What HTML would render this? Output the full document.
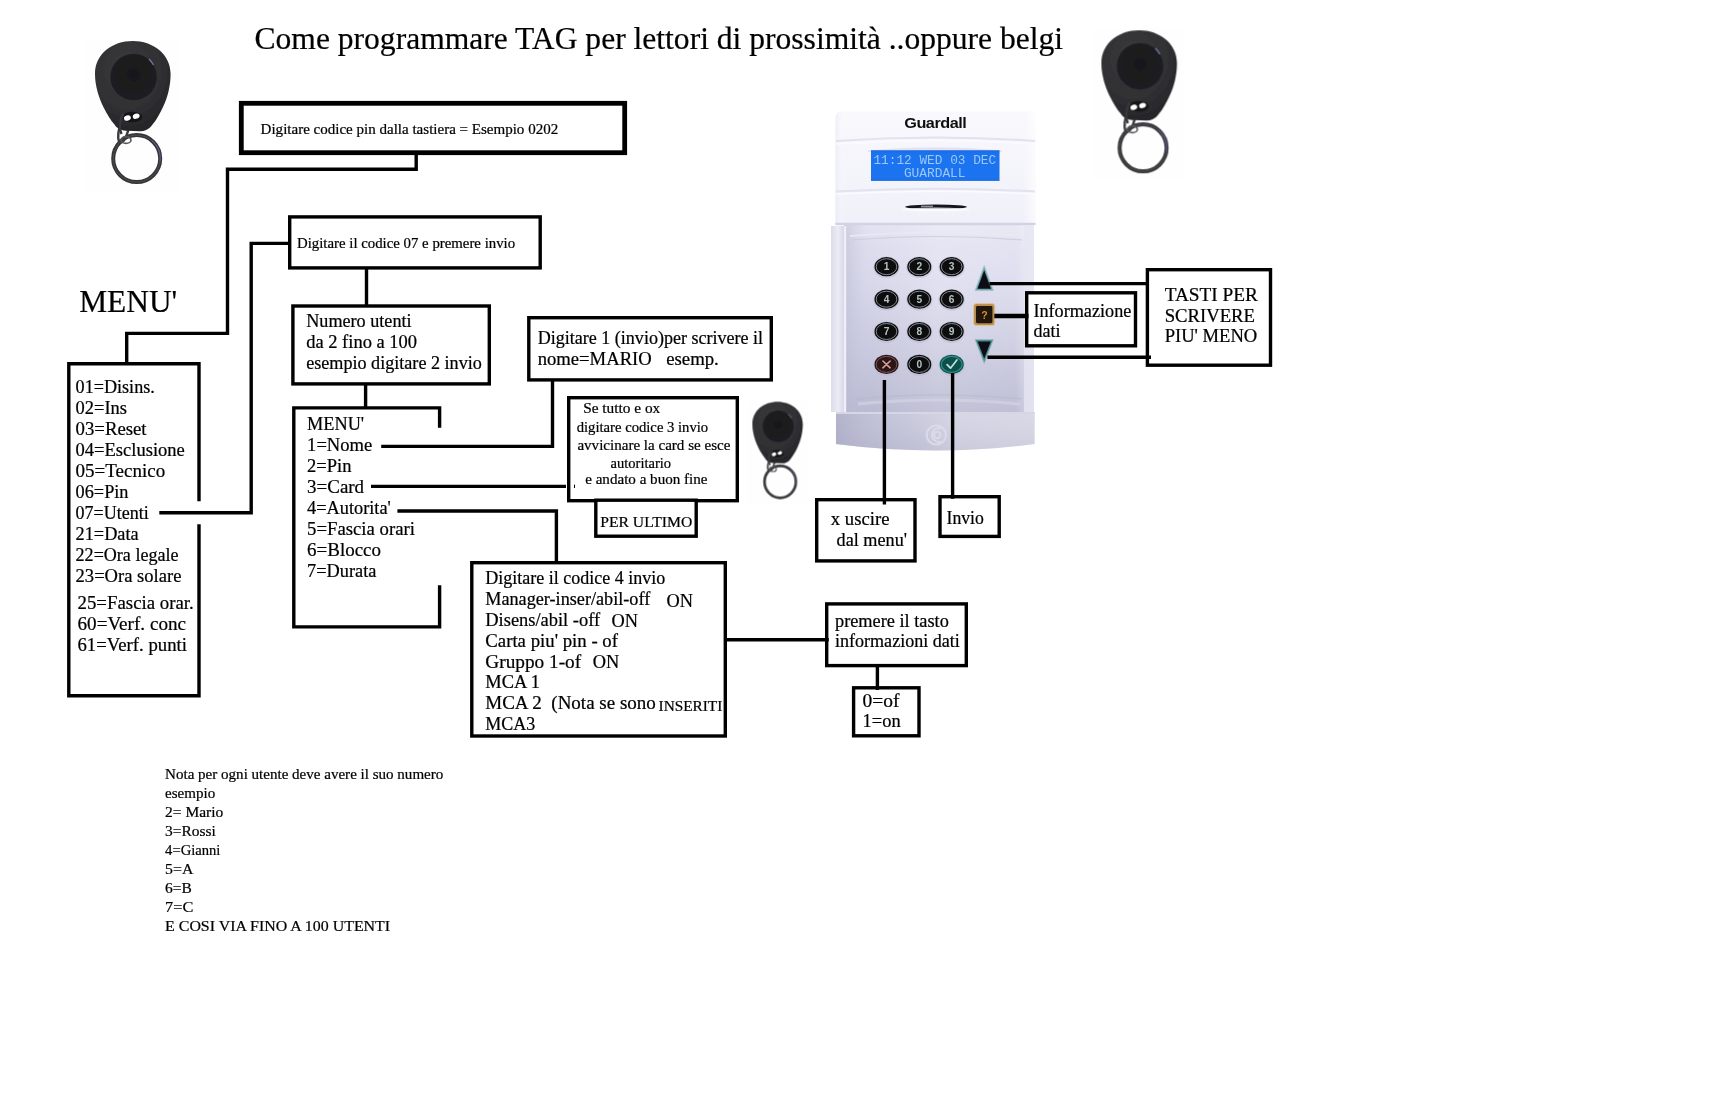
<!DOCTYPE html>
<html>
<head>
<meta charset="utf-8">
<title>Come programmare TAG</title>
<style>
html,body{margin:0;padding:0;background:#fff;width:1736px;height:1118px;overflow:hidden}
svg{display:block;position:absolute;left:0;top:0}
text{font-family:"Liberation Serif",serif;fill:#000;white-space:pre;stroke:#000;stroke-width:.22px}
.m{font-size:18px}
.s{font-size:15px}
.t{font-size:31.5px}
.ln{stroke:#000;stroke-width:3.4;fill:none;stroke-linecap:butt;stroke-linejoin:miter}
.bx{stroke:#000;stroke-width:3.4;fill:#fff}
</style>
</head>
<body>
<svg width="1736" height="1118" viewBox="0 0 1736 1118">
<defs>
<!--DEFS-->
<linearGradient id="gTop" x1="0" y1="0" x2="0" y2="1">
  <stop offset="0" stop-color="#f9f9fd"/><stop offset=".25" stop-color="#f6f6fc"/><stop offset=".55" stop-color="#f4f4fb"/><stop offset="1" stop-color="#f0f0f9"/>
</linearGradient>
<linearGradient id="gTopH" x1="0" y1="0" x2="1" y2="0">
  <stop offset="0" stop-color="#e8e8f4" stop-opacity=".6"/><stop offset=".05" stop-color="#fff" stop-opacity="0"/><stop offset=".94" stop-color="#fff" stop-opacity="0"/><stop offset="1" stop-color="#fff" stop-opacity=".7"/>
</linearGradient>
<linearGradient id="gBody" x1="0" y1="0" x2="0" y2="1">
  <stop offset="0" stop-color="#e8e8f4"/><stop offset=".12" stop-color="#e0e0f0"/><stop offset=".35" stop-color="#d9d9ec"/><stop offset=".68" stop-color="#c9c9df"/><stop offset="1" stop-color="#b7b7d0"/>
</linearGradient>
<linearGradient id="gBodyH" x1="0" y1="0" x2="1" y2="0">
  <stop offset="0" stop-color="#b8b8d0" stop-opacity=".55"/><stop offset=".12" stop-color="#c8c8de" stop-opacity=".15"/><stop offset=".5" stop-color="#fff" stop-opacity=".18"/><stop offset=".9" stop-color="#fff" stop-opacity=".1"/><stop offset="1" stop-color="#fff" stop-opacity=".45"/>
</linearGradient>
<linearGradient id="gFlap" x1="0" y1="0" x2="1" y2="0">
  <stop offset="0" stop-color="#dcdcea"/><stop offset=".5" stop-color="#ececf6"/><stop offset="1" stop-color="#d4d4e6"/>
</linearGradient>
<linearGradient id="gLip" x1="0" y1="0" x2="0" y2="1">
  <stop offset="0" stop-color="#c9c9dd"/><stop offset=".5" stop-color="#c3c3d8"/><stop offset="1" stop-color="#b9b9d0"/>
</linearGradient>
<linearGradient id="gLipH" x1="0" y1="0" x2="1" y2="0">
  <stop offset="0" stop-color="#a9a9c4" stop-opacity=".7"/><stop offset=".25" stop-color="#b8b8d0" stop-opacity=".2"/><stop offset=".6" stop-color="#fff" stop-opacity=".25"/><stop offset="1" stop-color="#fff" stop-opacity=".3"/>
</linearGradient>
<linearGradient id="gLcd" x1="0" y1="0" x2="0" y2="1">
  <stop offset="0" stop-color="#1450c8" stop-opacity=".35"/><stop offset=".15" stop-color="#2a7bf0" stop-opacity=".05"/><stop offset=".85" stop-color="#2a7bf0" stop-opacity="0"/><stop offset="1" stop-color="#1450c8" stop-opacity=".2"/>
</linearGradient>
<radialGradient id="gFobBody" cx=".42" cy=".3" r=".8">
  <stop offset="0" stop-color="#3b3b3e"/><stop offset=".6" stop-color="#2f2f32"/><stop offset="1" stop-color="#222225"/>
</radialGradient>
<radialGradient id="gFobIn" cx=".5" cy=".45" r=".6">
  <stop offset="0" stop-color="#18181a"/><stop offset="1" stop-color="#1f1f22"/>
</radialGradient>
<filter id="soft" x="-5%" y="-5%" width="110%" height="110%"><feGaussianBlur stdDeviation=".55"/></filter>
<filter id="soft2" x="-5%" y="-5%" width="110%" height="110%"><feGaussianBlur stdDeviation=".45"/></filter>
<g id="fob">
  <!-- faint photo background -->
  <rect x="-9" y="-2" width="92" height="152" fill="#fefefe"/>
  <!-- key ring -->
  <circle cx="41.7" cy="117.6" r="23.5" fill="none" stroke="#343437" stroke-width="4"/>
  <circle cx="41.7" cy="117.6" r="23.5" fill="none" stroke="#77777e" stroke-width=".7" opacity=".55"/>
  <path d="M57,99.5 A23.6,23.6 0 0 1 65,121" fill="none" stroke="#6a6ab8" stroke-width="1.2" opacity=".55"/>
  <!-- link -->
  <ellipse cx="28.8" cy="88" rx="4.6" ry="14" transform="rotate(14 28.8 88)" fill="none" stroke="#3a3a3d" stroke-width="2.4"/>
  <ellipse cx="31" cy="99" rx="5" ry="3.4" fill="none" stroke="#55555a" stroke-width="1.6"/>
  <!-- body -->
  <path d="M37.8,0 C58,0 75.6,13 75.6,33 C75.6,45 72.5,57 68,66 C64.5,73.5 61,79.5 57.5,83.5 C54,88.5 50,90.3 44,90.3 L33,89.8 C27,89.5 22.5,88.5 19.5,83.5 C16,79.5 12,73.5 8.4,66 C4,57 0,45 0,33 C0,13 17,0 37.8,0 Z" fill="url(#gFobBody)"/>
  <circle cx="38.6" cy="36" r="23.2" fill="url(#gFobIn)"/>
  <path d="M54,18 A23.2,23.2 0 0 1 58.5,24" stroke="#7f8fc8" stroke-width="1.3" fill="none" opacity=".8"/>
  <!-- hole -->
  <ellipse cx="37.3" cy="76" rx="10" ry="5.3" fill="#141416"/>
  <ellipse cx="32.4" cy="77" rx="3.5" ry="2.6" fill="#fff" transform="rotate(-20 32.4 77)"/>
  <ellipse cx="41.2" cy="75.2" rx="3.5" ry="2.5" fill="#fff" transform="rotate(-20 41.2 75.2)"/>
  <path d="M28.5,72.5 C25,78 23.5,86 26.5,93" fill="none" stroke="#37373a" stroke-width="2.4"/>
</g>
<!--/DEFS-->
</defs>

<!--DEVICE-->
<g id="device" filter="url(#soft)">
  <!-- lower body -->
  <rect x="831" y="226" width="14" height="186" fill="url(#gFlap)"/>
  <rect x="844" y="222" width="190" height="191" fill="url(#gBody)"/>
  <rect x="844" y="222" width="190" height="191" fill="url(#gBodyH)"/>
  <!-- inner ridge of panel -->
  <path d="M850,236 Q936,229 1024,236" stroke="#e9e9f5" stroke-width="2.2" fill="none" opacity=".9"/>
  <path d="M852,240 Q936,233 1022,240" stroke="#c6c6dc" stroke-width="1.2" fill="none" opacity=".7"/>
  <!-- bottom ridge of panel -->
  <path d="M858,404 Q936,396 1020,404" stroke="#d3d3e6" stroke-width="3" fill="none" opacity=".7"/>
  <path d="M856,399 Q936,391 1022,399" stroke="#b4b4cc" stroke-width="1.4" fill="none" opacity=".45"/>
  <rect x="1024" y="226" width="10" height="186" fill="#e6e6f3" opacity=".75"/>
  <rect x="844" y="226" width="2.2" height="186" fill="#efeff8"/>
  <!-- base lip -->
  <path d="M836,412 H1034.6 V444 Q936,457 836,444 Z" fill="url(#gLip)"/>
  <path d="M836,412 H1034.6 V444 Q936,457 836,444 Z" fill="url(#gLipH)"/>
  <path d="M836,413 H1034.6" stroke="#d6d6e6" stroke-width="2"/>
  <!-- logo emboss -->
  <g fill="none" stroke="#dadaea" stroke-width="2" opacity="1">
    <circle cx="936.3" cy="435" r="9.6"/>
    <path d="M941.5,428.5 A7,7 0 1 0 941.5,441.5"/>
    <circle cx="937.2" cy="435" r="3.2"/>
  </g>
  <!-- top housing -->
  <path d="M835.4,225 V118 Q835.4,111.4 842,111.4 H1029 Q1035.4,111.4 1035.4,118 V225 Z" fill="url(#gTop)"/>
  <path d="M835.4,225 V118 Q835.4,111.4 842,111.4 H1029 Q1035.4,111.4 1035.4,118 V225 Z" fill="url(#gTopH)"/>
  <!-- ridges -->
  <path d="M836,141 Q936,134 1035,141" stroke="#e2e2ef" stroke-width="2.2" fill="none"/>
  <path d="M836,144 Q936,137 1035,144" stroke="#fbfbff" stroke-width="1.6" fill="none"/>
  <path d="M836,191.5 Q936,186 1035,191.5" stroke="#e3e3f0" stroke-width="2.2" fill="none"/>
  <path d="M836,194 Q936,188.5 1035,194" stroke="#fbfbff" stroke-width="1.6" fill="none"/>
  <path d="M835.4,224 H1035.4" stroke="#d2d2e4" stroke-width="2.4"/>
  <!-- LCD recess shadow + LCD -->
  <path d="M868,150.5 Q936,144 1002,150.5 V152 H868 Z" fill="#d8dbee" opacity=".7"/>
  <rect x="871" y="150.3" width="128.5" height="30.6" fill="#1a73ef"/>
  <rect x="871" y="150.3" width="128.5" height="30.6" fill="url(#gLcd)"/>
  <text x="873.4" y="164.2" style="stroke:none;font-family:'Liberation Mono',monospace;font-size:12.8px;fill:#9cc7f9" textLength="122.8" lengthAdjust="spacingAndGlyphs">11:12 WED 03 DEC</text>
  <text x="903.9" y="177" style="stroke:none;font-family:'Liberation Mono',monospace;font-size:12.8px;fill:#9cc7f9" textLength="61.6" lengthAdjust="spacingAndGlyphs">GUARDALL</text>
  <!-- brand -->
  <text x="904.3" y="127.8" style="stroke:none;font-family:'Liberation Sans',sans-serif;font-weight:bold;font-size:15.2px;fill:#111;letter-spacing:-.45px" textLength="62" lengthAdjust="spacingAndGlyphs">Guardall</text>
  <!-- slot -->
  <ellipse cx="936" cy="206.8" rx="31" ry="2.3" fill="#15151b"/>
  <ellipse cx="936" cy="209.6" rx="34" ry="2" fill="#fdfdff" opacity=".8"/>
  <rect x="921" y="205.6" width="12" height="1.6" fill="#8d8d99"/>
  <!-- keys -->
  <g id="keys">
    <ellipse cx="886.5" cy="267.3" rx="13.2" ry="10.8" fill="#b9b9cf" opacity=".55"/>
    <ellipse cx="886.5" cy="266.7" rx="12" ry="9.6" fill="#0a0b0e"/>
    <ellipse cx="886.5" cy="266.7" rx="10.3" ry="8" fill="none" stroke="#8f979b" stroke-width=".9"/>
    <text x="886.5" y="270.4" text-anchor="middle" style="stroke:none;font-family:'Liberation Sans',sans-serif;font-weight:bold;font-size:10.2px;fill:#b7c3c2">1</text>
    <ellipse cx="919.3" cy="267.3" rx="13.2" ry="10.8" fill="#b9b9cf" opacity=".55"/>
    <ellipse cx="919.3" cy="266.7" rx="12" ry="9.6" fill="#0a0b0e"/>
    <ellipse cx="919.3" cy="266.7" rx="10.3" ry="8" fill="none" stroke="#8f979b" stroke-width=".9"/>
    <text x="919.3" y="270.4" text-anchor="middle" style="stroke:none;font-family:'Liberation Sans',sans-serif;font-weight:bold;font-size:10.2px;fill:#b7c3c2">2</text>
    <ellipse cx="951.7" cy="267.3" rx="13.2" ry="10.8" fill="#b9b9cf" opacity=".55"/>
    <ellipse cx="951.7" cy="266.7" rx="12" ry="9.6" fill="#0a0b0e"/>
    <ellipse cx="951.7" cy="266.7" rx="10.3" ry="8" fill="none" stroke="#8f979b" stroke-width=".9"/>
    <text x="951.7" y="270.4" text-anchor="middle" style="stroke:none;font-family:'Liberation Sans',sans-serif;font-weight:bold;font-size:10.2px;fill:#b7c3c2">3</text>
    <ellipse cx="886.5" cy="299.8" rx="13.2" ry="10.8" fill="#b9b9cf" opacity=".55"/>
    <ellipse cx="886.5" cy="299.2" rx="12" ry="9.6" fill="#0a0b0e"/>
    <ellipse cx="886.5" cy="299.2" rx="10.3" ry="8" fill="none" stroke="#8f979b" stroke-width=".9"/>
    <text x="886.5" y="302.9" text-anchor="middle" style="stroke:none;font-family:'Liberation Sans',sans-serif;font-weight:bold;font-size:10.2px;fill:#b7c3c2">4</text>
    <ellipse cx="919.3" cy="299.8" rx="13.2" ry="10.8" fill="#b9b9cf" opacity=".55"/>
    <ellipse cx="919.3" cy="299.2" rx="12" ry="9.6" fill="#0a0b0e"/>
    <ellipse cx="919.3" cy="299.2" rx="10.3" ry="8" fill="none" stroke="#8f979b" stroke-width=".9"/>
    <text x="919.3" y="302.9" text-anchor="middle" style="stroke:none;font-family:'Liberation Sans',sans-serif;font-weight:bold;font-size:10.2px;fill:#b7c3c2">5</text>
    <ellipse cx="951.7" cy="299.8" rx="13.2" ry="10.8" fill="#b9b9cf" opacity=".55"/>
    <ellipse cx="951.7" cy="299.2" rx="12" ry="9.6" fill="#0a0b0e"/>
    <ellipse cx="951.7" cy="299.2" rx="10.3" ry="8" fill="none" stroke="#8f979b" stroke-width=".9"/>
    <text x="951.7" y="302.9" text-anchor="middle" style="stroke:none;font-family:'Liberation Sans',sans-serif;font-weight:bold;font-size:10.2px;fill:#b7c3c2">6</text>
    <ellipse cx="886.5" cy="332.1" rx="13.2" ry="10.8" fill="#b9b9cf" opacity=".55"/>
    <ellipse cx="886.5" cy="331.5" rx="12" ry="9.6" fill="#0a0b0e"/>
    <ellipse cx="886.5" cy="331.5" rx="10.3" ry="8" fill="none" stroke="#8f979b" stroke-width=".9"/>
    <text x="886.5" y="335.2" text-anchor="middle" style="stroke:none;font-family:'Liberation Sans',sans-serif;font-weight:bold;font-size:10.2px;fill:#b7c3c2">7</text>
    <ellipse cx="919.3" cy="332.1" rx="13.2" ry="10.8" fill="#b9b9cf" opacity=".55"/>
    <ellipse cx="919.3" cy="331.5" rx="12" ry="9.6" fill="#0a0b0e"/>
    <ellipse cx="919.3" cy="331.5" rx="10.3" ry="8" fill="none" stroke="#8f979b" stroke-width=".9"/>
    <text x="919.3" y="335.2" text-anchor="middle" style="stroke:none;font-family:'Liberation Sans',sans-serif;font-weight:bold;font-size:10.2px;fill:#b7c3c2">8</text>
    <ellipse cx="951.7" cy="332.1" rx="13.2" ry="10.8" fill="#b9b9cf" opacity=".55"/>
    <ellipse cx="951.7" cy="331.5" rx="12" ry="9.6" fill="#0a0b0e"/>
    <ellipse cx="951.7" cy="331.5" rx="10.3" ry="8" fill="none" stroke="#8f979b" stroke-width=".9"/>
    <text x="951.7" y="335.2" text-anchor="middle" style="stroke:none;font-family:'Liberation Sans',sans-serif;font-weight:bold;font-size:10.2px;fill:#b7c3c2">9</text>
    <ellipse cx="886.5" cy="365.0" rx="13.2" ry="10.8" fill="#b9b9cf" opacity=".55"/>
    <ellipse cx="886.5" cy="364.4" rx="12" ry="9.6" fill="#2a1517"/>
    <ellipse cx="886.5" cy="364.4" rx="10.3" ry="8" fill="none" stroke="#7d5452" stroke-width="1"/>
    <path d="M882.9,361.0 L890.1,367.79999999999995 M890.1,361.0 L882.9,367.79999999999995" stroke="#d99d97" stroke-width="1.6" stroke-linecap="round" fill="none"/>
    <ellipse cx="919.3" cy="365.0" rx="13.2" ry="10.8" fill="#b9b9cf" opacity=".55"/>
    <ellipse cx="919.3" cy="364.4" rx="12" ry="9.6" fill="#0a0b0e"/>
    <ellipse cx="919.3" cy="364.4" rx="10.3" ry="8" fill="none" stroke="#8f979b" stroke-width=".9"/>
    <text x="919.3" y="368.09999999999997" text-anchor="middle" style="stroke:none;font-family:'Liberation Sans',sans-serif;font-weight:bold;font-size:10.2px;fill:#b7c3c2">0</text>
    <ellipse cx="951.7" cy="365.0" rx="13.2" ry="10.8" fill="#b9b9cf" opacity=".55"/>
    <ellipse cx="951.7" cy="364.4" rx="12" ry="9.6" fill="#0b4f4c"/>
    <ellipse cx="951.7" cy="364.4" rx="10.3" ry="8" fill="none" stroke="#2f8f88" stroke-width="1.1"/>
    <path d="M947.1,364.59999999999997 L950.5,368.2 L956.9000000000001,360.0" stroke="#bfe4e0" stroke-width="1.7" stroke-linecap="round" stroke-linejoin="round" fill="none"/>
  </g>
  <!-- up arrow -->
  <path d="M984.2,265.6 L993.4,290.6 H975 Z" fill="#6fa3ab" stroke="#a9c6cd" stroke-width=".9" stroke-linejoin="round"/>
  <path d="M984.2,270.2 L991,288.8 H977.4 Z" fill="#0b1114"/>
  <!-- down arrow -->
  <path d="M975,339.6 H993.4 L984.2,363.4 Z" fill="#4f8890" stroke="#9dbdc4" stroke-width=".9" stroke-linejoin="round"/>
  <path d="M977.6,341.6 H990.8 L984.2,358.6 Z" fill="#0b1114"/>
  <!-- ? key -->
  <rect x="973.6" y="303.6" width="21.2" height="22" rx="2.8" fill="#b98d4e" stroke="#dcc79e" stroke-width="1"/>
  <rect x="976" y="306" width="16.4" height="17.2" rx="1.4" fill="#20150f"/>
  <text x="981.2" y="318.8" style="stroke:none;font-family:'Liberation Sans',sans-serif;font-weight:bold;font-size:10.5px;fill:#cf9534">?</text>
</g>
<!--/DEVICE-->


<!--FOBS-->
<g filter="url(#soft2)">
  <use href="#fob" transform="translate(95,41)"/>
  <use href="#fob" transform="translate(1101.4,30.3)"/>
  <use href="#fob" transform="translate(752.4,401.9) scale(.667,.68)"/>
</g>
<!--/FOBS-->

<!-- ================= boxes ================= -->
<!-- box1 (thick) -->
<rect x="241.3" y="103.3" width="383.4" height="49.4" fill="#fff" stroke="#000" stroke-width="4.8"/>
<g class="bx">
  <rect x="289.7" y="216.9" width="250.5" height="51"/>
  <rect x="292.9" y="306" width="196.4" height="77.9"/>
  <rect x="528.8" y="317.7" width="242.5" height="62.2"/>
  <rect x="568.7" y="397.7" width="168.6" height="103"/>
  <rect x="595.8" y="500.2" width="100.4" height="36"/>
  <rect x="471.8" y="562.7" width="253.5" height="173.3"/>
  <rect x="816.7" y="499.7" width="98.3" height="61.2"/>
  <rect x="940" y="496.7" width="59.2" height="39.7"/>
  <rect x="826.7" y="603.9" width="139.6" height="61.7"/>
  <rect x="853.6" y="687.8" width="65.4" height="48"/>
  <rect x="1026.7" y="292.8" width="108.8" height="53"/>
  <rect x="1147.4" y="269.7" width="123.1" height="95.5"/>
</g>
<!-- main menu box: right border has a gap -->
<g class="ln">
  <path d="M199,501.2 V363.7 H68.8 V695.7 H199 V524.2"/>
  <!-- sub menu box (open on right side) -->
  <path d="M439.6,427.8 V407.9 H293.8 V626.9 H439.6 V585.2"/>
</g>

<!-- ================= connector lines ================= -->
<g class="ln">
  <!-- box1 -> main menu -->
  <path d="M416.2,154 V169.3 H227.5 V335"/>
  <path d="M229,333.4 H126.7 V364"/>
  <!-- box2 -> 07=Utenti -->
  <path d="M289,243.4 H251.2 V512.8 H159.3"/>
  <!-- box2 -> numero utenti -->
  <path d="M366.5,268 V306"/>
  <!-- numero utenti -> sub menu -->
  <path d="M365.6,384 V408"/>
  <!-- 1=Nome -> Digitare 1 -->
  <path d="M381.2,446.4 H552.5 V380"/>
  <!-- 3=Card -> Se tutto -->
  <path d="M371,486.4 H566"/>
  <!-- 4=Autorita' -> codice 4 -->
  <path d="M397.4,511 H556.4 V562"/>
  <!-- codice 4 -> premere -->
  <path d="M726,639.7 H828.8"/>
  <!-- premere -> 0=of -->
  <path d="M877.4,666 V690"/>
  <!-- X key -> x uscire -->
  <path d="M884.4,380 V504.5"/>
  <!-- check key -> Invio -->
  <path d="M952.6,373 V498.8"/>
  <!-- arrows -> TASTI -->
  <path d="M989.4,283.6 H1147"/>
  <path d="M987.4,357.2 H1151"/>
</g>
<rect x="574" y="484.6" width="1" height="3.4" fill="#000"/>
<!-- ? -> Informazione (thicker) -->
<path d="M994.3,316 H1028.5" stroke="#000" stroke-width="4.6" fill="none"/>

<!--TEXT-->
<g>
<text x="254.5" y="48.7" class="t" textLength="808.6" lengthAdjust="spacingAndGlyphs">Come programmare TAG per lettori di prossimità ..oppure belgi</text>
<text x="260.6" y="134.3" class="s" textLength="297.6" lengthAdjust="spacingAndGlyphs">Digitare codice pin dalla tastiera = Esempio 0202</text>
<text x="297" y="247.9" class="s" textLength="218.1" lengthAdjust="spacingAndGlyphs">Digitare il codice 07 e premere invio</text>
<text x="79.2" y="311.6" class="t" textLength="98.1" lengthAdjust="spacingAndGlyphs">MENU'</text>
<text x="75.6" y="392.9" class="m" textLength="79.2" lengthAdjust="spacingAndGlyphs">01=Disins.</text>
<text x="75.6" y="413.9" class="m" textLength="51.4" lengthAdjust="spacingAndGlyphs">02=Ins</text>
<text x="75.6" y="434.9" class="m" textLength="71.0" lengthAdjust="spacingAndGlyphs">03=Reset</text>
<text x="75.6" y="455.9" class="m" textLength="109.2" lengthAdjust="spacingAndGlyphs">04=Esclusione</text>
<text x="75.6" y="476.9" class="m" textLength="89.6" lengthAdjust="spacingAndGlyphs">05=Tecnico</text>
<text x="75.6" y="497.9" class="m" textLength="52.9" lengthAdjust="spacingAndGlyphs">06=Pin</text>
<text x="75.6" y="518.9" class="m" textLength="73.2" lengthAdjust="spacingAndGlyphs">07=Utenti</text>
<text x="75.6" y="539.9" class="m" textLength="63.0" lengthAdjust="spacingAndGlyphs">21=Data</text>
<text x="75.6" y="560.9" class="m" textLength="102.9" lengthAdjust="spacingAndGlyphs">22=Ora legale</text>
<text x="75.6" y="581.9" class="m" textLength="105.8" lengthAdjust="spacingAndGlyphs">23=Ora solare</text>
<text x="77.5" y="609.4" class="m" textLength="116.3" lengthAdjust="spacingAndGlyphs" style="font-size:18.8px">25=Fascia orar.</text>
<text x="77.5" y="630.2" class="m" textLength="108.5" lengthAdjust="spacingAndGlyphs" style="font-size:18.8px">60=Verf. conc</text>
<text x="77.5" y="651" class="m" textLength="109.5" lengthAdjust="spacingAndGlyphs" style="font-size:18.8px">61=Verf. punti</text>
<text x="306.2" y="326.9" class="m" textLength="105.4" lengthAdjust="spacingAndGlyphs">Numero utenti</text>
<text x="306.2" y="347.9" class="m" textLength="110.9" lengthAdjust="spacingAndGlyphs">da 2 fino a 100</text>
<text x="306.2" y="368.7" class="m" textLength="175.6" lengthAdjust="spacingAndGlyphs">esempio digitare 2 invio</text>
<text x="307.1" y="429.9" class="m" textLength="57.0" lengthAdjust="spacingAndGlyphs">MENU'</text>
<text x="307.1" y="451.2" class="m" textLength="65.2" lengthAdjust="spacingAndGlyphs">1=Nome</text>
<text x="307.1" y="472.1" class="m" textLength="44.4" lengthAdjust="spacingAndGlyphs">2=Pin</text>
<text x="307.1" y="493" class="m" textLength="57.0" lengthAdjust="spacingAndGlyphs">3=Card</text>
<text x="307.1" y="514.1" class="m" textLength="83.8" lengthAdjust="spacingAndGlyphs">4=Autorita'</text>
<text x="307.1" y="535" class="m" textLength="107.8" lengthAdjust="spacingAndGlyphs">5=Fascia orari</text>
<text x="307.1" y="556" class="m" textLength="73.9" lengthAdjust="spacingAndGlyphs">6=Blocco</text>
<text x="307.1" y="576.9" class="m" textLength="69.3" lengthAdjust="spacingAndGlyphs">7=Durata</text>
<text x="537.7" y="343.5" class="m" textLength="225.4" lengthAdjust="spacingAndGlyphs">Digitare 1 (invio)per scrivere il</text>
<text x="537.7" y="364.8" class="m" textLength="114.1" lengthAdjust="spacingAndGlyphs">nome=MARIO</text>
<text x="666.2" y="364.8" class="m" textLength="52.6" lengthAdjust="spacingAndGlyphs">esemp.</text>
<text x="583.2" y="412.7" class="s" textLength="77.1" lengthAdjust="spacingAndGlyphs">Se tutto e ox</text>
<text x="576.7" y="431.6" class="s" textLength="131.5" lengthAdjust="spacingAndGlyphs">digitare codice 3 invio</text>
<text x="577.4" y="450" class="s" textLength="153.0" lengthAdjust="spacingAndGlyphs">avvicinare la card se esce</text>
<text x="610.6" y="467.7" class="s" textLength="60.4" lengthAdjust="spacingAndGlyphs">autoritario</text>
<text x="585.2" y="483.9" class="s" textLength="122.3" lengthAdjust="spacingAndGlyphs">e andato a buon fine</text>
<text x="600.2" y="526.7" class="s" textLength="92.1" lengthAdjust="spacingAndGlyphs" style="font-size:15.5px">PER ULTIMO</text>
<text x="485.3" y="583.6" class="m" textLength="179.9" lengthAdjust="spacingAndGlyphs">Digitare il codice 4 invio</text>
<text x="485.3" y="604.6" class="m" textLength="164.9" lengthAdjust="spacingAndGlyphs">Manager-inser/abil-off</text>
<text x="485.3" y="625.7" class="m" textLength="114.8" lengthAdjust="spacingAndGlyphs">Disens/abil -off</text>
<text x="485.3" y="646.5" class="m" textLength="132.7" lengthAdjust="spacingAndGlyphs">Carta piu' pin - of</text>
<text x="485.3" y="667.5" class="m" textLength="95.9" lengthAdjust="spacingAndGlyphs">Gruppo 1-of</text>
<text x="485.3" y="688.3" class="m" textLength="54.8" lengthAdjust="spacingAndGlyphs">MCA 1</text>
<text x="485.3" y="709.4" class="m" textLength="170.5" lengthAdjust="spacingAndGlyphs">MCA 2  (Nota se sono</text>
<text x="485.3" y="730.2" class="m" textLength="50.0" lengthAdjust="spacingAndGlyphs">MCA3</text>
<text x="666.5" y="606.5" class="m" textLength="26.5" lengthAdjust="spacingAndGlyphs">ON</text>
<text x="611.4" y="626.6" class="m" textLength="26.5" lengthAdjust="spacingAndGlyphs">ON</text>
<text x="592.8" y="668.2" class="m" textLength="26.5" lengthAdjust="spacingAndGlyphs">ON</text>
<text x="658.6" y="710.8" class="s" textLength="63.7" lengthAdjust="spacingAndGlyphs">INSERITI</text>
<text x="830.8" y="524.6" class="m" textLength="58.7" lengthAdjust="spacingAndGlyphs">x uscire</text>
<text x="836.6" y="545.9" class="m" textLength="70.5" lengthAdjust="spacingAndGlyphs">dal menu'</text>
<text x="946.5" y="523.8" class="m" textLength="37.4" lengthAdjust="spacingAndGlyphs">Invio</text>
<text x="835" y="626.5" class="m" textLength="113.8" lengthAdjust="spacingAndGlyphs">premere il tasto</text>
<text x="835" y="647.3" class="m" textLength="124.8" lengthAdjust="spacingAndGlyphs">informazioni dati</text>
<text x="862.6" y="706.6" class="m" textLength="36.9" lengthAdjust="spacingAndGlyphs">0=of</text>
<text x="862.6" y="727.4" class="m" textLength="38.0" lengthAdjust="spacingAndGlyphs">1=on</text>
<text x="1033.4" y="316.6" class="m" textLength="97.9" lengthAdjust="spacingAndGlyphs">Informazione</text>
<text x="1033.4" y="337.2" class="m" textLength="27.0" lengthAdjust="spacingAndGlyphs">dati</text>
<text x="1164.7" y="300.9" class="m" textLength="93.2" lengthAdjust="spacingAndGlyphs">TASTI PER</text>
<text x="1164.7" y="321.5" class="m" textLength="90.3" lengthAdjust="spacingAndGlyphs">SCRIVERE</text>
<text x="1164.7" y="342" class="m" textLength="92.6" lengthAdjust="spacingAndGlyphs">PIU' MENO</text>
<text x="165.1" y="778.9" class="s" textLength="278.2" lengthAdjust="spacingAndGlyphs">Nota per ogni utente deve avere il suo numero</text>
<text x="165.1" y="797.9" class="s" textLength="50.1" lengthAdjust="spacingAndGlyphs">esempio</text>
<text x="165.1" y="816.9" class="s" textLength="58.2" lengthAdjust="spacingAndGlyphs">2= Mario</text>
<text x="165.1" y="835.8" class="s" textLength="50.7" lengthAdjust="spacingAndGlyphs">3=Rossi</text>
<text x="165.1" y="854.8" class="s" textLength="55.3" lengthAdjust="spacingAndGlyphs">4=Gianni</text>
<text x="165.1" y="873.8" class="s" textLength="28.2" lengthAdjust="spacingAndGlyphs">5=A</text>
<text x="165.1" y="892.8" class="s" textLength="26.8" lengthAdjust="spacingAndGlyphs">6=B</text>
<text x="165.1" y="911.8" class="s" textLength="28.2" lengthAdjust="spacingAndGlyphs">7=C</text>
<text x="165.1" y="930.7" class="s" textLength="225.0" lengthAdjust="spacingAndGlyphs">E COSI VIA FINO A 100 UTENTI</text>
</g>
<!--/TEXT-->
</svg>
</body>
</html>
